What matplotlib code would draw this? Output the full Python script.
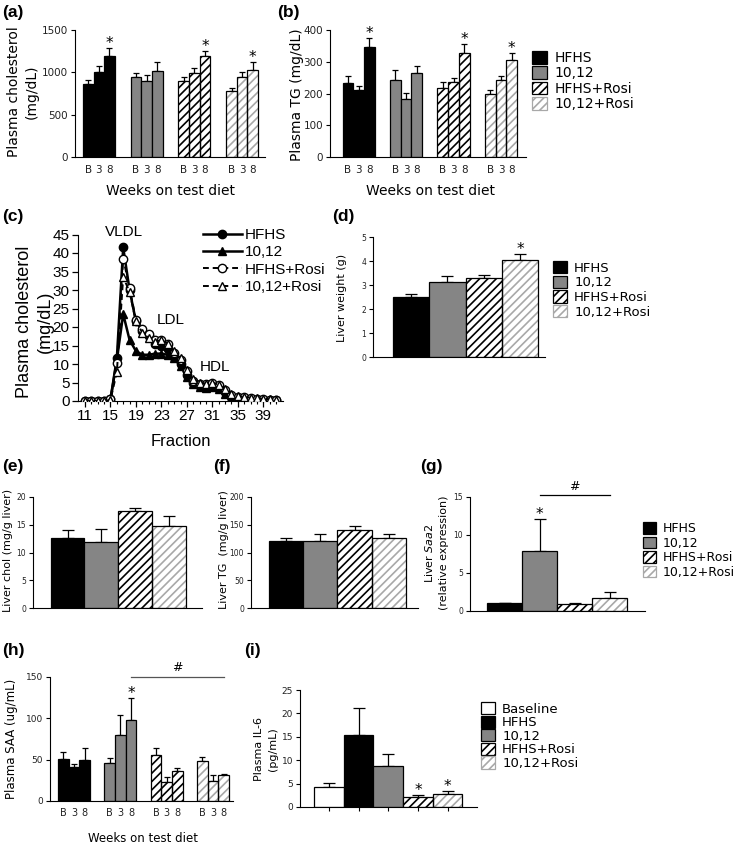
import numpy as np
import matplotlib
matplotlib.use('Agg')
import matplotlib.pyplot as plt
from matplotlib.patches import Patch

plt.rcParams['font.family'] = ['DejaVu Sans']
plt.rcParams['hatch.linewidth'] = 1.2
plt.rcParams['mathtext.fontset'] = 'dejavusans'

W, H = 739, 843

groups = ['HFHS', '10,12', 'HFHS+Rosi', '10,12+Rosi']
weeks = ['B', '3', '8']

# (a) plasma cholesterol (mg/dL); rows = groups, cols = B / 3 / 8 weeks
chol_mean = [[857, 1007, 1192], [940, 892, 1018], [896, 991, 1188], [785, 940, 1026]]
chol_sem = [[51, 67, 91], [55, 75, 107], [44, 55, 67], [32, 67, 91]]
chol_sig = [(0, 2), (2, 2), (3, 2)]

# (b) plasma TG (mg/dL)
tg_mean = [[232, 211, 346], [244, 183, 264], [216, 235, 329], [200, 241, 304]]
tg_sem = [[23, 12, 30], [30, 19, 23], [21, 14, 26], [11, 15, 24]]
tg_sig = [(0, 2), (2, 2), (3, 2)]

# (c) FPLC cholesterol profile (mg/dL) per fraction
fractions = list(range(11, 42))
fplc_hfhs = [0, 0, 0, 0, 0.5, 11.5, 41.5, 30, 21.5, 19, 17.5, 15.5, 15, 14, 12, 10,
             7, 5, 4, 3.8, 4, 3.5, 2.3, 1, 0.8, 0.6, 0.5, 0.4, 0.3, 0.2, 0.2]
fplc_1012 = [0, 0, 0, 0, 0.3, 11, 23.5, 16.5, 13.5, 12.5, 12.5, 12.8, 12.8, 12.5, 11.5, 9.5,
             6.5, 4.5, 3.8, 3.5, 3.8, 3.2, 2, 0.8, 0.6, 0.5, 0.4, 0.3, 0.3, 0.2, 0.2]
fplc_hfhs_rosi = [0, 0, 0, 0, 0.6, 10.2, 38.5, 30.5, 22, 19.5, 18, 16.5, 16.5, 15.5, 13, 11,
                  8, 5.5, 4.7, 4.5, 5, 4.2, 3, 1.5, 1.2, 1, 0.8, 0.6, 0.5, 0.4, 0.4]
fplc_1012_rosi = [0, 0, 0, 0, 0.3, 7.8, 33.5, 29.5, 21.5, 18.5, 17, 16, 16.5, 15.5, 13.5, 11.5,
                  8.5, 6, 5, 4.7, 5, 4.4, 3.2, 1.8, 1.3, 1.1, 0.9, 0.7, 0.6, 0.5, 0.4]

# (d)-(g) liver measures, one value per group
liver_wt = [2.49, 3.14, 3.28, 4.03]
liver_wt_sem = [0.13, 0.22, 0.15, 0.26]
liver_chol = [12.7, 11.9, 17.4, 14.85]
liver_chol_sem = [1.4, 2.3, 0.7, 1.65]
liver_tg = [121.6, 120.4, 140, 127]
liver_tg_sem = [5.4, 12.6, 8, 6]
saa2 = [1.0, 7.87, 0.95, 1.7]
saa2_sem = [0.1, 4.2, 0.12, 0.75]

# (h) plasma SAA (ug/mL)
saa_mean = [[50.4, 40.7, 49.6], [46.3, 80, 98.4], [55.7, 23.2, 35.8], [48, 24.4, 30.9]]
saa_sem = [[9.4, 3.6, 14.2], [6.1, 23.7, 26], [8.9, 5.3, 3.6], [5.7, 6.9, 2]]
saa_sig = [(1, 2)]

# (i) plasma IL-6 (pg/mL)
il6_groups = ['Baseline'] + groups
il6 = [4.25, 15.4, 8.8, 2.05, 2.8]
il6_sem = [0.95, 5.7, 2.5, 0.55, 0.6]

styles = {
    'Baseline': dict(fc='white', hc=None),
    'HFHS': dict(fc='black', hc=None),
    '10,12': dict(fc='#858585', hc=None),
    'HFHS+Rosi': dict(fc='white', hc='black'),
    '10,12+Rosi': dict(fc='white', hc='#a8a8a8'),
}

fig = plt.figure(figsize=(W / 100, H / 100), dpi=100)


def px_axes(l, t, r, b):
    return fig.add_axes([l / W, 1 - b / H, (r - l) / W, (b - t) / H])


def ftext(x, y, s, **kw):
    kw.setdefault('ha', 'center')
    kw.setdefault('va', 'center')
    fig.text(x / W, 1 - y / H, s, **kw)


def draw_bar(ax, x, h, w, name):
    st = styles[name]
    if st['hc'] is None:
        ax.bar(x, h, w, color=st['fc'], edgecolor='black', linewidth=0.9, zorder=2)
    else:
        ax.bar(x, h, w, color='white', edgecolor=st['hc'], hatch='////', linewidth=0, zorder=2)
        ax.bar(x, h, w, fill=False, edgecolor='black', linewidth=0.9, zorder=3)


def handle(name):
    st = styles[name]
    if st['hc'] is None:
        return Patch(facecolor=st['fc'], edgecolor='black', linewidth=0.9)
    return Patch(facecolor='white', edgecolor=st['hc'], hatch='////', linewidth=0.9)


def err(ax, x, h, e, cs):
    ax.errorbar(x, h, yerr=[[0], [e]], fmt='none', ecolor='black', elinewidth=0.9,
                capsize=cs, capthick=0.9, zorder=1)


def star(ax, x, y, fs=11):
    ax.annotate('*', xy=(x, y), xytext=(0, 0), textcoords='offset points',
                ha='center', va='baseline', fontsize=fs, annotation_clip=False)


def prism(ax, ymax, step, fs):
    for s in ['top', 'right']:
        ax.spines[s].set_visible(False)
    for s in ['left', 'bottom']:
        ax.spines[s].set_linewidth(0.8)
    ax.set_ylim(0, ymax)
    ax.set_yticks(list(range(0, ymax + 1, step)))
    ax.tick_params(axis='y', direction='out', length=3, width=0.8, labelsize=fs,
                   labelcolor='#222', pad=2)
    ax.tick_params(axis='x', length=0)


def grouped(ax, means, sems, sig, gap, ymax, step, fs, tfs, tpad, cs):
    prism(ax, ymax, step, fs)
    xs = []
    for g, name in enumerate(groups):
        for j in range(3):
            x = g * gap + j
            xs.append(x)
            draw_bar(ax, x, means[g][j], 1.0, name)
            err(ax, x, means[g][j], sems[g][j], cs)
    for g, j in sig:
        star(ax, g * gap + j, means[g][j] + sems[g][j])
    ax.set_xticks(xs)
    ax.set_xticklabels(weeks * 4, fontsize=tfs, color='#222')
    ax.tick_params(axis='x', pad=tpad)


def single(ax, vals, sems, names, ymax, step, fs, cs):
    prism(ax, ymax, step, fs)
    for i, name in enumerate(names):
        draw_bar(ax, i, vals[i], 1.0, name)
        err(ax, i, vals[i], sems[i], cs)
    ax.set_xticks([])


def prism_legend(ax, names, x, y, fs=9.5, ls=0.1):
    ax.legend([handle(n) for n in names], names, loc='upper left',
              bbox_to_anchor=(x / W, 1 - y / H), bbox_transform=fig.transFigure,
              frameon=False, fontsize=fs, handlelength=1.05, handleheight=1.05,
              handletextpad=0.55, labelspacing=ls, borderpad=0, borderaxespad=0)


letter_kw = dict(fontsize=12.5, fontweight='bold', family='Liberation Sans', ha='left')

# ---- (a)
ax = px_axes(75, 30, 265, 157)
grouped(ax, chol_mean, chol_sem, chol_sig, 4.5, 1500, 500, 7.5, 7.5, 6, 2.5)
ax.set_xlim(-1.25, 16.65)
ftext(2, 13, '(a)', **letter_kw)
ftext(23, 92, 'Plasma cholesterol\n(mg/dL)', rotation=90, fontsize=10, linespacing=1.3)
ftext(170, 191, 'Weeks on test diet', fontsize=10)

# ---- (b)
ax = px_axes(330, 30, 526, 157)
grouped(ax, tg_mean, tg_sem, tg_sig, 4.44, 400, 100, 7.5, 7.5, 6, 2.5)
ax.set_xlim(-1.67, 16.66)
ftext(277, 13, '(b)', **letter_kw)
ftext(297, 95, 'Plasma TG (mg/dL)', rotation=90, fontsize=10)
ftext(430, 191, 'Weeks on test diet', fontsize=10)
prism_legend(ax, groups, 532, 51, fs=10, ls=0.08)

# ---- (c)
ax = px_axes(78, 234.5, 283, 401)
arial = 'Liberation Sans'
ax.plot(fractions, fplc_hfhs, '-o', color='black', lw=1.8, ms=6, label='HFHS', zorder=3)
ax.plot(fractions, fplc_1012, '-^', color='black', lw=1.8, ms=6, label='10,12', zorder=3)
ax.plot(fractions, fplc_hfhs_rosi, '--o', color='black', lw=1.4, ms=6, mfc='white',
        mew=1, dashes=(3, 2), label='HFHS+Rosi', zorder=4)
ax.plot(fractions, fplc_1012_rosi, '--^', color='black', lw=1.4, ms=6, mfc='white',
        mew=1, dashes=(3, 2), label='10,12+Rosi', zorder=5)
for s in ['top', 'right']:
    ax.spines[s].set_visible(False)
ax.set_ylim(0, 45)
ax.set_xlim(9.9, 42.1)
ax.set_yticks(list(range(0, 46, 5)))
ax.set_xticks(list(range(11, 40, 4)))
ax.set_xticks(fractions, minor=True)
ax.tick_params(axis='both', direction='out', length=4, width=0.9, labelsize=11, pad=2)
ax.tick_params(axis='x', which='minor', length=2.5, width=0.8)
for lab in ax.get_xticklabels() + ax.get_yticklabels():
    lab.set_family(arial)
ax.legend(loc='upper left', bbox_to_anchor=(203 / W, 1 - 228 / H),
          bbox_transform=fig.transFigure, frameon=False, borderpad=0, borderaxespad=0,
          handlelength=2.55, handletextpad=0.2, labelspacing=0.22,
          prop=dict(family=arial, size=11))
ftext(2, 217, '(c)', **letter_kw)
ftext(35, 322, 'Plasma cholesterol\n(mg/dL)', rotation=90, fontsize=13,
      family=arial, linespacing=1.3)
ftext(181, 442, 'Fraction', fontsize=12, family=arial)
ftext(124, 232, 'VLDL', fontsize=11, family=arial)
ftext(171, 320, 'LDL', fontsize=11, family=arial)
ftext(215, 367, 'HDL', fontsize=11, family=arial)

# ---- (d)
ax = px_axes(373, 237, 545, 357)
single(ax, liver_wt, liver_wt_sem, groups, 5, 1, 5.5, 4)
ax.set_xlim(-1.05, 3.69)
star(ax, 3, liver_wt[3] + liver_wt_sem[3])
ftext(332, 217, '(d)', **letter_kw)
ftext(342, 298, 'Liver weight (g)', rotation=90, fontsize=8)
prism_legend(ax, groups, 553, 261, ls=0.08)

# ---- (e)
ax = px_axes(33, 497, 202, 608)
single(ax, liver_chol, liver_chol_sem, groups, 20, 5, 5.5, 4.5)
ax.set_xlim(-1.02, 3.97)
ftext(2, 467, '(e)', **letter_kw)
ftext(8, 550, 'Liver chol (mg/g liver)', rotation=90, fontsize=8)

# ---- (f)
ax = px_axes(251, 497, 418, 608)
single(ax, liver_tg, liver_tg_sem, groups, 200, 50, 5.5, 4.5)
ax.set_xlim(-1.02, 3.85)
ftext(213, 467, '(f)', **letter_kw)
ftext(224, 550, 'Liver TG  (mg/g liver)', rotation=90, fontsize=8)

# ---- (g)
ax = px_axes(470, 497, 645, 611)
single(ax, saa2, saa2_sem, groups, 15, 5, 5.5, 4.5)
ax.set_xlim(-0.99, 4.01)
star(ax, 1, saa2[1] + saa2_sem[1])
ax.plot([1, 3], [15.2, 15.2], color='black', lw=0.9, clip_on=False)
ax.annotate('#', xy=(2, 15.2), xytext=(0, 2), textcoords='offset points',
            ha='center', va='bottom', fontsize=9, annotation_clip=False)
ftext(420, 467, '(g)', **letter_kw)
ftext(436, 553, 'Liver $\\mathit{Saa2}$\n(relative expression)', rotation=90,
      fontsize=8, linespacing=1.5)
prism_legend(ax, groups, 643, 522, fs=9, ls=0.12)

# ---- (h)
ax = px_axes(50, 677, 233, 801)
grouped(ax, saa_mean, saa_sem, saa_sig, 4.33, 150, 50, 6.5, 7, 5, 2.5)
ax.set_xlim(-1.25, 15.86)
ax.plot([4.33 + 2, 3 * 4.33 + 2], [150, 150], color='#555', lw=0.9, clip_on=False)
ax.annotate('#', xy=(2 * 4.33 + 2, 150), xytext=(0, 2), textcoords='offset points',
            ha='center', va='bottom', fontsize=9, annotation_clip=False)
ftext(2, 650, '(h)', **letter_kw)
ftext(12, 739, 'Plasma SAA (ug/mL)', rotation=90, fontsize=8.5)
ftext(143, 838, 'Weeks on test diet', fontsize=8.5)

# ---- (i)
ax = px_axes(300, 690, 477, 807)
single(ax, il6, il6_sem, il6_groups, 25, 5, 6.5, 4)
ax.set_xlim(-0.97, 4.99)
ax.set_xticks(range(5))
ax.set_xticklabels([''] * 5)
ax.tick_params(axis='x', direction='out', length=3, width=0.8)
star(ax, 3, il6[3] + il6_sem[3])
star(ax, 4, il6[4] + il6_sem[4])
ftext(244, 650, '(i)', **letter_kw)
ftext(266, 749, 'Plasma IL-6\n(pg/mL)', rotation=90, fontsize=8, linespacing=1.4)
prism_legend(ax, il6_groups, 481, 702, ls=0.0)

fig.savefig('out.png', dpi=100)
